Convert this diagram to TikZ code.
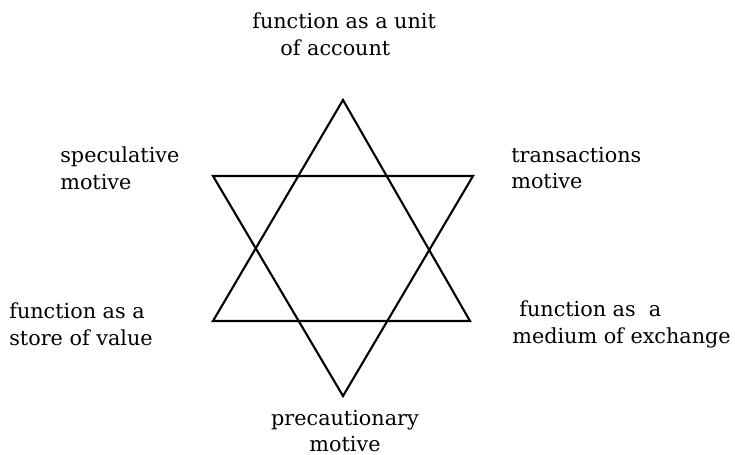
\documentclass[tikz,border=0pt]{standalone}
\usepackage{fontspec}
\setmainfont{DejaVu Serif}
\usetikzlibrary{positioning}

\begin{document}
\begin{tikzpicture}[x=0.02cm, y=-0.02cm,
		star/.style={line width=1.2pt, line join=miter},
		lbl/.style={font=\fontsize{11.8}{15.3}\selectfont, inner sep=0pt, align=left},
		lblc/.style={lbl, align=center}]
	\useasboundingbox (0,0) rectangle (735,455);
	
	%--- vertices of the star ---
	\coordinate (top) at (343,100);
	\coordinate (bl) at (213,321);
	\coordinate (br) at (470,321);
	\coordinate (tl) at (213,176);
	\coordinate (tr) at (473,176);
	\coordinate (bot) at (343,396);
	
	\draw[star] (top) -- (br) -- (bl) -- cycle;
	\draw[star] (tl) -- (tr) -- (bot) -- cycle;
	
	%--- labels ---
	\node[lbl, anchor=west] (unit) at (252,34) {function as a unit\\\hspace{16pt}of account};
	\node[lbl, anchor=west] (spec) at (60,168) {speculative\\motive};
	\node[lbl, anchor=west] (trans) at (511,168) {transactions\\motive};
	\node[lbl, anchor=west] (store) at (9,324) {function as a\\store of value};
	\node[lbl, anchor=west] (medium) at (512,324) {\hspace{4pt}function as~~a\\medium of exchange};
	\node[lblc] (prec) at (345,431) {precautionary\\motive};
\end{tikzpicture}
\end{document}
